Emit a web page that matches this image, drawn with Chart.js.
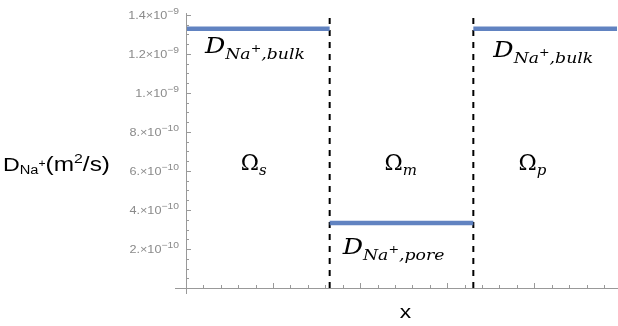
<!DOCTYPE html>
<html>
<head>
<meta charset="utf-8">
<script src="https://cdn.jsdelivr.net/npm/chart.js@4.4.0/dist/chart.umd.min.js"></script>
<style>
  html, body { margin: 0; padding: 0; background: #fff; }
</style>
</head>
<body>
<canvas id="diffChart" width="618" height="326"></canvas>
<script>
// Données : limites des régions et diffusivité dans chaque région
const regionBounds = [0, 1.65, 3.3, 4.95];
const diffusivity = [1.33e-9, 0.333e-9, 1.33e-9];
const regionNames = ['s', 'm', 'p'];
const dividers = [1.65, 3.3];
const yTickValues = [0.2e-9, 0.4e-9, 0.6e-9, 0.8e-9, 1.0e-9, 1.2e-9, 1.4e-9];
const yTickLabels = ['2.×10^−10', '4.×10^−10', '6.×10^−10', '8.×10^−10', '1.×10^−9', '1.2×10^−9', '1.4×10^−9'];
const xMajorTicks = [1, 2, 3, 4];

const blue = 'rgba(88, 124, 190, 0.95)';

// Segments horizontaux
const datasets = diffusivity.map((d, i) => ({
  data: [{ x: regionBounds[i], y: d }, { x: regionBounds[i + 1], y: d }],
  borderColor: blue,
  borderWidth: 4.5,
  pointRadius: 0,
  showLine: true,
}));

// Lignes pointillées verticales
dividers.forEach(v => {
  datasets.push({
    data: [{ x: v, y: 0 }, { x: v, y: 1.39e-9 }],
    borderColor: '#000',
    borderWidth: 2,
    borderDash: [6, 6],
    pointRadius: 0,
    showLine: true,
  });
});

// Texte avec indices/exposants : parts = [[texte, police, décalage vertical], ...]
function drawRich(ctx, x, y, parts, stretch, alignRight) {
  let w = 0;
  parts.forEach(p => { ctx.font = p[1]; w += ctx.measureText(p[0]).width; });
  ctx.save();
  ctx.translate(alignRight ? x - w * stretch : x, y);
  ctx.scale(stretch, 1);
  let cx = 0;
  parts.forEach(p => {
    ctx.font = p[1];
    ctx.fillText(p[0], cx, p[2] || 0);
    cx += ctx.measureText(p[0]).width;
  });
  ctx.restore();
}

const serif = '"DejaVu Serif"';
const sans = '"Liberation Sans", Arial, sans-serif';

function dLabel(rest) {
  return [
    ['D', 'italic 22px ' + serif, 0],
    ['Na', 'italic 15px ' + serif, 6],
    ['+', '11px ' + serif, -1],
    [rest, 'italic 15px ' + serif, 6],
  ];
}

const axesPlugin = {
  id: 'axesPlugin',
  afterDatasetsDraw(chart) {
    const ctx = chart.ctx;
    const xs = chart.scales.x, ys = chart.scales.y;
    const x0 = xs.getPixelForValue(0), y0 = ys.getPixelForValue(0);
    const px = v => xs.getPixelForValue(v), py = v => ys.getPixelForValue(v);
    ctx.save();
    // Axes
    ctx.strokeStyle = '#999';
    ctx.lineWidth = 1;
    ctx.beginPath();
    ctx.moveTo(x0 - 11, y0 + 0.5); ctx.lineTo(chart.width, y0 + 0.5);
    ctx.moveTo(x0 + 0.5, y0 + 6); ctx.lineTo(x0 + 0.5, py(1.41e-9));
    ctx.stroke();
    // Graduations Y (vers l'intérieur)
    ctx.beginPath();
    for (let i = 1; i <= 28; i++) {
      const yy = Math.round(py(i * 0.05e-9)) + 0.5;
      const len = i % 4 === 0 ? 5 : 3;
      ctx.moveTo(x0, yy); ctx.lineTo(x0 + len, yy);
    }
    // Graduations X
    for (let i = 1; i <= 24; i++) {
      const v = i * 0.2;
      const xx = Math.round(px(v)) + 0.5;
      const len = xMajorTicks.includes(Math.round(v * 10) / 10) ? 5 : 3;
      ctx.moveTo(xx, y0); ctx.lineTo(xx, y0 - len);
    }
    ctx.stroke();

    // Étiquettes de l'axe Y
    ctx.textBaseline = 'alphabetic';
    ctx.fillStyle = '#8a8a8a';
    yTickValues.forEach((v, i) => {
      const [base, exp] = yTickLabels[i].split('^');
      drawRich(ctx, x0 - 7, py(v) + 4, [
        [base, '11px ' + sans, 0],
        [exp, '9px ' + sans, -5],
      ], 1.15, true);
    });

    // Annotations D
    ctx.fillStyle = '#000';
    drawRich(ctx, px(0.218), py(1.205e-9), dLabel(',bulk'), 1.15);
    drawRich(ctx, px(3.53), py(1.185e-9), dLabel(',bulk'), 1.15);
    drawRich(ctx, px(1.80), py(0.174e-9), dLabel(',pore'), 1.15);

    // Omega des régions
    const omegaX = [0.63, 2.28, 3.82];
    regionNames.forEach((n, i) => drawRich(ctx, px(omegaX[i]), py(0.605e-9), [
      ['Ω', '22px ' + serif, 0],
      [n, 'italic 15px ' + serif, 5],
    ], 1));

    // Titres des axes
    ctx.font = '19px ' + sans;
    ctx.save();
    ctx.translate(px(2.52), 318);
    ctx.scale(1.2, 1);
    ctx.textAlign = 'center';
    ctx.fillText('x', 0, 0);
    ctx.restore();
    drawRich(ctx, 3, 171, [
      ['D', '19px ' + sans, 0],
      ['Na', '12px ' + sans, 3],
      ['+', '10px ' + sans, -4],
      ['(m', '20px ' + sans, 0],
      ['2', '13px ' + sans, -8],
      ['/s)', '20px ' + sans, 0],
    ], 1.22);
    ctx.restore();
  }
};

const ctx = document.getElementById('diffChart').getContext('2d');
new Chart(ctx, {
  type: 'scatter',
  data: { datasets },
  options: {
    responsive: false,
    animation: false,
    layout: { padding: { top: 15, right: 1, left: 0, bottom: 0 } },
    plugins: { legend: { display: false }, tooltip: { enabled: false } },
    scales: {
      x: {
        type: 'linear', min: 0, max: 4.95,
        grid: { display: false }, border: { display: false },
        ticks: { display: false },
        afterFit: s => { s.height = 38; },
      },
      y: {
        type: 'linear', min: 0, max: 1.4e-9,
        grid: { display: false }, border: { display: false },
        ticks: { display: false },
        afterFit: s => { s.width = 186; },
      },
    },
  },
  plugins: [axesPlugin],
});
</script>
</body>
</html>
